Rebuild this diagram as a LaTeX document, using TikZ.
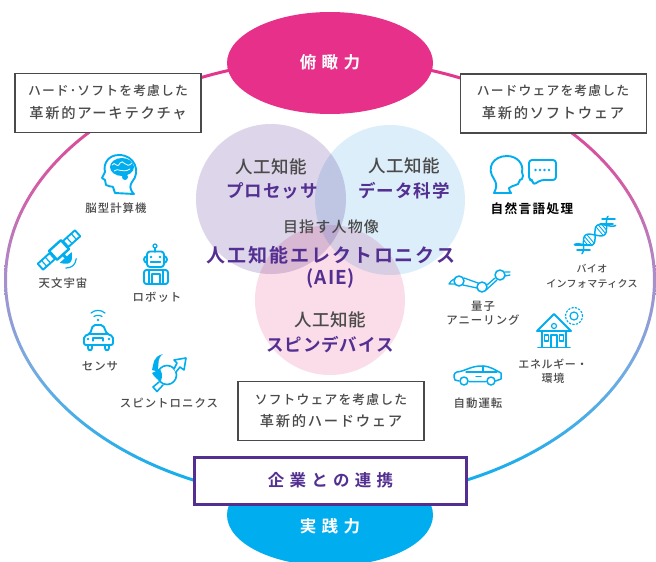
\documentclass[tikz,border=0pt]{standalone}
\usepackage{fontspec}
\usetikzlibrary{calc,shapes,positioning}
\newfontfamily\cjkfont[BoldFont={Noto Sans CJK JP Bold}]{Noto Sans CJK JP Medium}
\definecolor{aiePurple}{HTML}{532F91}
\definecolor{aiePink}{HTML}{E6308A}
\definecolor{aieCyan}{HTML}{00AEEF}
\definecolor{aieGray}{HTML}{4A4A4A}
\definecolor{ringBlue}{HTML}{74ACE2}
\definecolor{ringLilac}{HTML}{A890CC}
\definecolor{ringRose}{HTML}{D060A8}
\pgfdeclareverticalshading{ringShade}{100bp}{
  color(0bp)=(aieCyan); color(25bp)=(aieCyan); color(40bp)=(ringBlue);
  color(50bp)=(ringLilac); color(60bp)=(ringRose); color(75bp)=(aiePink); color(100bp)=(aiePink)}
\newcommand{\spaced}[1]{\addfontfeature{LetterSpace=#1}}
\begin{document}
\begin{tikzpicture}[x=1pt,y=-1pt,
          iconLine/.style={draw=aieCyan,line width=1.9pt,line join=round,line cap=round},
          iconThin/.style={draw=aieCyan,line width=1.2pt,line join=round,line cap=round},
          iconFill/.style={fill=aieCyan,draw=none},
          iconLabel/.style={
            text=aieGray,
            align=center,
            inner sep=0pt,
            font=\cjkfont\fontsize{11.4}{14}\selectfont\spaced{9}},
          boxStyle/.style={
            draw=aieGray,
            line width=1.2pt,
            fill=white,
            minimum width=186pt,
            minimum height=59pt},
          boxText/.style={
            text=aieGray,
            inner sep=0pt,
            font=\cjkfont\fontsize{12.8}{14}\selectfont\spaced{9}},
          boxTextBig/.style={
            text=aieGray,
            inner sep=0pt,
            font=\cjkfont\fontsize{14.3}{16}\selectfont\spaced{12}},
          fieldText/.style={
            text=aieGray,
            inner sep=0pt,
            font=\cjkfont\fontsize{17.5}{20}\selectfont\spaced{3}},
          fieldName/.style={
            text=aiePurple,
            inner sep=0pt,
            font=\cjkfont\bfseries\fontsize{17.5}{20}\selectfont\spaced{5}},
          powerText/.style={
            text=white,
            inner sep=0pt,
            font=\cjkfont\bfseries\fontsize{16.5}{18}\selectfont\spaced{32}}
          ]

          \clip (0,0) rectangle (656,562);
          \fill[white] (0,0) rectangle (656,562);

          % outer ring
          \shade[shading=ringShade,even odd rule]
            (330,280) ellipse [x radius=326pt,y radius=222pt]
            (330,280) ellipse [x radius=323pt,y radius=219pt];

          \node[ellipse,fill=aiePink,minimum width=206pt,minimum height=102pt,inner sep=0pt] (topPower) at (330,63) {};
          \node[powerText] (topLabel) at (330,62) {俯瞰力};
          \node[ellipse,fill=aieCyan,minimum width=206pt,minimum height=102pt,inner sep=0pt] (bottomPower) at (330,515) {};
          \node[powerText] (bottomLabel) at (330,526) {実践力};

          % three fields
          \begin{scope}[blend mode=multiply]
            \fill[fill={rgb,255:red,221;green,213;blue,233}] (271,199) circle [radius=75pt];
            \fill[fill={rgb,255:red,220;green,238;blue,250}] (390,200) circle [radius=75pt];
            \fill[fill={rgb,255:red,251;green,221;blue,233}] (330,300) circle [radius=75pt];
          \end{scope}

          \node[fieldText] (procA) at (271,167) {人工知能};
          \node[fieldName] (procB) at (272,191) {プロセッサ};
          \node[fieldText] (dataA) at (404,166) {人工知能};
          \node[fieldName] (dataB) at (404,191) {データ科学};
          \node[fieldText] (spinA) at (330,320) {人工知能};
          \node[fieldName] (spinB) at (330,345) {スピンデバイス};
          \node[text=aieGray,inner sep=0pt,font=\cjkfont\fontsize{15}{18}\selectfont\spaced{8}] (aimA) at (331,227) {目指す人物像};
          \node[text=aiePurple,inner sep=0pt,font=\cjkfont\bfseries\fontsize{19}{22}\selectfont\spaced{10}] (aimB) at (331,255) {人工知能エレクトロニクス};
          \node[text=aiePurple,inner sep=0pt,font=\cjkfont\bfseries\fontsize{19}{22}\selectfont\spaced{5}] (aimC) at (331,279) {(AIE)};

          % boxes
          \node[boxStyle] (boxLeft) at (108,103) {};
          \node[boxText] (boxLeftA) at (108,91) {ハード･ソフトを考慮した};
          \node[boxTextBig] (boxLeftB) at (108,113) {革新的アーキテクチャ};
          \node[boxStyle] (boxRight) at (553.5,103.5) {};
          \node[boxText] (boxRightA) at (553,91) {ハードウェアを考慮した};
          \node[boxTextBig] (boxRightB) at (553,113) {革新的ソフトウェア};
          \node[boxStyle] (boxBottom) at (331,411) {};
          \node[boxText] (boxBottomA) at (331,400) {ソフトウェアを考慮した};
          \node[boxTextBig] (boxBottomB) at (331,421) {革新的ハードウェア};
          \node[draw=aiePurple,line width=3pt,fill=white,minimum width=272pt,minimum height=47pt,
                text=aiePurple,font=\cjkfont\bfseries\fontsize{16.5}{18}\selectfont\spaced{32}] (company) at (330.5,480.5) {企業との連携};

          % labels of the icons
          \node[iconLabel] (brainLabel) at (116,208) {脳型計算機};
          \node[iconLabel] (spaceLabel) at (63,283) {天文宇宙};
          \node[iconLabel] (robotLabel) at (157,297) {ロボット};
          \node[iconLabel] (sensorLabel) at (100,366) {センサ};
          \node[iconLabel] (spinLabel) at (169,403) {スピントロニクス};
          \node[iconLabel,text=black,font=\cjkfont\bfseries\fontsize{12.6}{14}\selectfont\spaced{11}] (nlpLabel) at (532,209) {自然言語処理};
          \node[iconLabel,font=\cjkfont\fontsize{10}{15}\selectfont\spaced{3}] (bioLabel) at (592,276) {バイオ\\インフォマティクス};
          \node[iconLabel] (annealLabel) at (483,313) {量子\\アニーリング};
          \node[iconLabel,font=\cjkfont\fontsize{11}{14}\selectfont\spaced{6}] (energyLabel) at (553,371) {エネルギー・\\環境};
          \node[iconLabel] (driveLabel) at (478,403) {自動運転};

          % brain
          \draw[iconLine] (134,194) .. controls (129,189) and (130,185) .. (132,182) .. controls (141,172) and (135,155) .. (119,155) .. controls (108,155) and (103,164) .. (105,172) -- (102,178) -- (105,180) -- (106,185) .. controls (108,187) and (112,186) .. (113,187) -- (115,193) -- cycle;
          \fill[iconFill] (122,167) ellipse [x radius=12pt,y radius=9pt];
          \fill[iconFill] (125,177) circle [radius=3pt];
          \draw[white,line width=.8pt] (112,165) .. controls (115,160) and (117,170) .. (120,163) .. controls (123,158) and (126,170) .. (132,163) (114,171) .. controls (118,167) and (122,174) .. (130,169);

          % satellite
          \begin{scope}[shift={(59,250)},rotate=42]
            \draw[iconLine,fill=white] (-25,-4) rectangle (-9,4);
            \draw[iconLine,fill=white] (9,-4) rectangle (25,4);
            \draw[iconThin] (-20,-4) -- (-20,4) (-15,-4) -- (-15,4) (14,-4) -- (14,4) (20,-4) -- (20,4);
            \draw[iconLine,line width=2.4pt,fill=white] (-8,-6) rectangle (8,6);
            \draw[iconLine,line width=3pt] (0,6) -- (0,10);
            \fill[iconFill] (-8,10) .. controls (-2,19) and (2,19) .. (8,10) -- cycle;
            \draw[iconThin] (-7,18) .. controls (-2,22) and (2,22) .. (7,18);
          \end{scope}

          % robot
          \draw[iconThin] (155,247.5) -- (155,252);
          \draw[iconThin] (155,246) circle [radius=2pt];
          \draw[iconLine,rounded corners=3pt] (147,251.5) rectangle (164,267);
          \draw[iconLine] (147,256) .. controls (143,257) and (143,262) .. (147,263) (164,256) .. controls (168,257) and (168,262) .. (164,263);
          \fill[iconFill] (151,257) circle [radius=1.4pt] (160,257) circle [radius=1.4pt];
          \draw[iconThin] (150.5,262) -- (160.5,262);
          \draw[iconLine,rounded corners=2.5pt] (144,270) rectangle (168,284);
          \draw[iconLine] (149,270) -- (149,284) (163,270) -- (163,284);
          \draw[iconThin] (152,284) -- (152,274) -- (160,274) -- (160,284);

          % sensor
          \draw[iconThin] (91,313) .. controls (95,309.5) and (101,309.5) .. (105,313) (94,316.5) .. controls (96,315) and (100,315) .. (102,316.5);
          \fill[iconFill] (98,320) circle [radius=1.4pt];
          \draw[iconLine,rounded corners=2pt] (84,345) -- (84,336) -- (90,334) -- (93,325) -- (103,325) -- (107,334) -- (113,336) -- (113,345) -- cycle;
          \draw[iconLine] (89,334) -- (108,334);
          \draw[iconThin] (93,341) -- (93,338) -- (103,338) -- (103,341);
          \draw[iconLine] (88,345) -- (88,348) .. controls (88,351) and (92,351) .. (92,348) -- (92,345) (105,345) -- (105,348) .. controls (105,351) and (109,351) .. (109,348) -- (109,345);
          \fill[iconFill] (88,339) circle [radius=1.4pt] (109,339) circle [radius=1.4pt];

          % spintronics
          \draw[iconLine,line width=1.6pt] (167,375) circle [radius=9.5pt];
          \draw[iconLine,line width=1.6pt] (159,382) -- (153,387) -- (157,391.5) -- (163,385);
          \draw[iconLine,line width=1.6pt,fill=white] (174,369) -- (177,363) -- (174,360) -- (186,358) -- (184,370) -- (180,367) -- (176,372);
          \fill[iconFill] (163,354) .. controls (152,357) and (154,364) .. (152,370) -- (156,371) -- (152,373) .. controls (155,378) and (158,380) .. (161,381) .. controls (163,375) and (162,372) .. (160,369) -- (158,369) .. controls (159,364) and (157,358) .. (163,354) -- cycle;

          % speech
          \draw[iconLine] (494,193) .. controls (497,187) and (497,184) .. (494,179) .. controls (486,168) and (493,156) .. (507,156) .. controls (517,156) and (524,164) .. (522,172) -- (523,176) .. controls (523,179) and (521,180) .. (520,180) -- (518,184) .. controls (514,186) and (511,186) .. (509,188) .. controls (509,190) and (510,192) .. (511,193) -- cycle;
          \draw[iconLine,rounded corners=3pt] (529,160) -- (556,160) -- (556,180) -- (541,180) -- (533,185) -- (533,180) -- (529,180) -- cycle;
          \fill[iconFill] (535.5,170) circle [radius=1.3pt] (540,170) circle [radius=1.3pt] (544.5,170) circle [radius=1.3pt] (549,170) circle [radius=1.3pt];

          % dna
          \draw[iconLine,line width=1.5pt] (575,245) -- (590,245) (577,250) -- (590,250) (600,224) -- (613,224) (602,219) -- (615,219);
          \begin{scope}[shift={(595,235)},rotate=40]
            \draw[iconLine,line width=1.5pt] plot[domain=-22:22,samples=40,smooth] (\x,{6*sin(\x*12)});
            \draw[iconLine,line width=1.5pt] plot[domain=-22:22,samples=40,smooth] (\x,{-6*sin(\x*12)});
            \foreach \rung in {-12,-9,-6,6,9,12}{
              \draw[iconThin,line width=.9pt] (\rung,{6*sin(\rung*12)}) -- (\rung,{-6*sin(\rung*12)});
            }
          \end{scope}

          % quantum
          \draw[iconLine,line width=1.5pt] (459,281) circle [radius=5pt] (482,287) circle [radius=5pt] (500,275) circle [radius=5pt];
          \draw[iconLine,line width=1.3pt] (464,278) -- (478,283) (463,285) -- (477,288) (487,285) -- (495,278) (486,290) -- (497,280);
          \draw[iconLine,line width=1.3pt] (454,279) .. controls (452,280) and (450,282) .. (449,284) -- (455,284) (505,272) -- (510,272) (505,276) -- (510,275);

          % energy
          \draw[iconLine] (537,331) -- (554,314) -- (571,331) -- cycle;
          \draw[iconLine] (542,331) -- (542,347) (566,331) -- (566,347) (538,347.5) -- (570,347.5);
          \draw[iconThin] (554,326) circle [radius=2.5pt];
          \draw[iconThin] (551,347) -- (551,335) -- (557,335) -- (557,347);
          \draw[iconThin] (544.5,335) rectangle (548.5,341) (559.5,335) rectangle (563.5,341);
          \draw[iconThin] (574,316) circle [radius=4pt];
          \draw[iconThin,dash pattern=on 1.5pt off 2pt] (574,316) circle [radius=8.5pt];

          % car
          \draw[iconLine,line width=1.5pt] (459,381) -- (455,380) .. controls (453,376) and (454,373) .. (457,372) .. controls (466,371) and (470,366) .. (482,366) .. controls (490,366) and (495,370) .. (501,373) -- (501,379) -- (495.5,381) (486,381.5) -- (469,381.5);
          \draw[iconThin] (466,372) -- (497,372) (476,376.5) -- (481,376.5) (483,366) -- (483,372);
          \draw[iconLine,line width=1.5pt] (464,381) circle [radius=4pt] (491,381) circle [radius=4pt];
        \end{tikzpicture}
\end{document}
